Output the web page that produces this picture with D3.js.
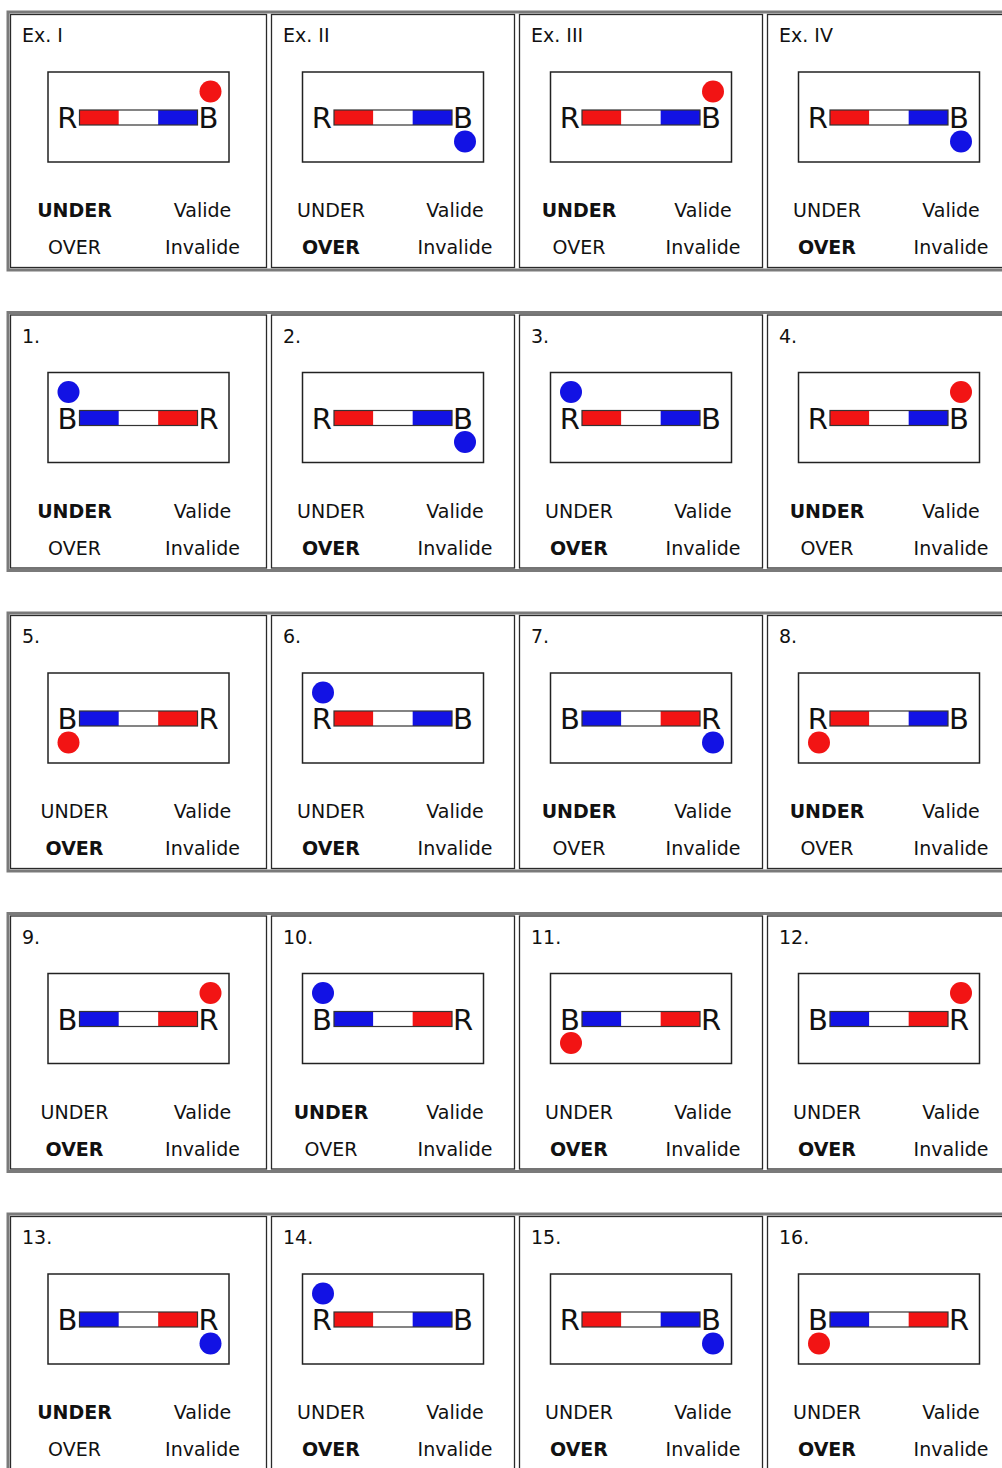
<!DOCTYPE html>
<html>
<head>
<meta charset="utf-8">
<script src="https://cdn.jsdelivr.net/npm/d3@7"></script>
<style>
  body { margin: 0; background: #fff; }
  svg { display: block; }
  text { font-family: "DejaVu Sans", Verdana, sans-serif; fill: #111; }
</style>
</head>
<body>
<div id="chart"></div>
<script>
// cell contents, read left to right, top to bottom
const labels = ["Ex. I", "Ex. II", "Ex. III", "Ex. IV",
    "1.", "2.", "3.", "4.",
    "5.", "6.", "7.", "8.",
    "9.", "10.", "11.", "12.",
    "13.", "14.", "15.", "16."];
const leftLetters = ["R", "R", "R", "R",
    "B", "R", "R", "R",
    "B", "R", "B", "R",
    "B", "B", "B", "B",
    "B", "R", "R", "B"];
const dotColors = ["red", "blue", "red", "blue",
    "blue", "blue", "blue", "red",
    "red", "blue", "blue", "red",
    "red", "blue", "red", "red",
    "blue", "blue", "blue", "red"];
const dotCorners = ["TR", "BR", "TR", "BR",
    "TL", "BR", "TL", "TR",
    "BL", "TL", "BR", "BL",
    "TR", "TL", "BL", "TR",
    "BR", "TL", "BR", "BL"];
const boldChoice = ["UNDER", "OVER", "UNDER", "OVER",
    "UNDER", "OVER", "OVER", "UNDER",
    "OVER", "OVER", "UNDER", "UNDER",
    "OVER", "UNDER", "OVER", "OVER",
    "UNDER", "OVER", "OVER", "OVER"];
const answers = ["Valide", "Invalide"];

const W = 1002, H = 1468;
const nCols = 4, nRows = 5;

var svg = d3.select("#chart").append("svg")
    .attr("width", W)
    .attr("height", H);

// layout
var rowY = d3.scaleLinear().domain([0, 1]).range([12, 312.5]);
var rowH = 258;
var colWidths = [261, 248, 248, 248];
var colEdges = colWidths.reduce(function (acc, w) {
    acc.push(acc[acc.length - 1] + w);
    return acc;
}, [8]);

var fill = { red: "#f21414", blue: "#1212e4" };

var cells = labels.map(function (l, i) {
    return {
        label: l,
        row: Math.floor(i / nCols),
        col: i % nCols,
        left: leftLetters[i],
        right: leftLetters[i] == "R" ? "B" : "R",
        dot: dotColors[i],
        corner: dotCorners[i],
        bold: boldChoice[i]
    };
});

// dot offsets from the bar ends
var dotDx = d3.scaleOrdinal().domain(["L", "R"]).range([-11, 13]);
var dotDy = d3.scaleOrdinal().domain(["T", "B"]).range([-26, 24]);

// outer table border per row
d3.range(nRows).forEach(function (r) {
    svg.append("rect")
        .attr("x", colEdges[0])
        .attr("y", rowY(r))
        .attr("width", colEdges[nCols] - colEdges[0])
        .attr("height", rowH)
        .attr("fill", "none")
        .attr("stroke", "#7a7a7a")
        .attr("stroke-width", 3);
});

var g = svg.selectAll(".cell")
    .data(cells)
    .enter().append("g")
    .attr("class", "cell")
    .attr("transform", function (d) {
        return "translate(" + colEdges[d.col] + "," + rowY(d.row) + ")";
    });

g.append("rect")
    .attr("x", 2.5)
    .attr("y", 2.5)
    .attr("width", function (d) { return colWidths[d.col] - 5; })
    .attr("height", rowH - 5)
    .attr("fill", "none")
    .attr("stroke", "#2a2a2a")
    .attr("stroke-width", 1.3);

g.append("text")
    .attr("x", 14)
    .attr("y", 30)
    .style("font-size", "19px")
    .text(function (d) { return d.label; });

g.each(function (d) {
    var cg = d3.select(this);
    var cx = colWidths[d.col] / 2;
    var by = 105.5;
    var spread = d.col == 0 ? 64 : 62;

    // inner box
    cg.append("rect")
        .attr("x", cx - 90.5)
        .attr("y", 60)
        .attr("width", 181)
        .attr("height", 90)
        .attr("fill", "#fff")
        .attr("stroke", "#222")
        .attr("stroke-width", 1.5);

    var seg = d3.scaleBand()
        .domain([0, 1, 2])
        .range([cx - 59, cx + 59]);
    var segColors = [fill[d.left == "R" ? "red" : "blue"], "#fff", fill[d.right == "R" ? "red" : "blue"]];

    cg.selectAll(".seg")
        .data(segColors)
        .enter().append("rect")
        .attr("class", "seg")
        .attr("x", function (c, i) { return seg(i); })
        .attr("y", by - 7.5)
        .attr("width", seg.bandwidth())
        .attr("height", 15)
        .attr("fill", function (c) { return c; });

    cg.append("rect")
        .attr("x", seg.range()[0])
        .attr("y", by - 7.5)
        .attr("width", seg.range()[1] - seg.range()[0])
        .attr("height", 15)
        .attr("fill", "none")
        .attr("stroke", "#333")
        .attr("stroke-width", 1.2);

    cg.append("text")
        .attr("x", seg.range()[0] - 2)
        .attr("y", by + 10.5)
        .attr("text-anchor", "end")
        .style("font-size", "29px")
        .text(d.left);

    cg.append("text")
        .attr("x", seg.range()[1] + 1)
        .attr("y", by + 10.5)
        .style("font-size", "29px")
        .text(d.right);

    var side = d.corner[1];
    var vert = d.corner[0];
    cg.append("circle")
        .attr("cx", (side == "L" ? seg.range()[0] : seg.range()[1]) + dotDx(side))
        .attr("cy", by + dotDy(vert))
        .attr("r", 11)
        .attr("fill", fill[d.dot]);

    // answer grid
    [["UNDER", 205], ["OVER", 242]].forEach(function (t, k) {
        cg.append("text")
            .attr("x", cx - spread)
            .attr("y", t[1])
            .attr("text-anchor", "middle")
            .style("font-size", "19px")
            .style("font-weight", d.bold == t[0] ? "bold" : "normal")
            .text(t[0]);
        cg.append("text")
            .attr("x", cx + spread)
            .attr("y", t[1])
            .attr("text-anchor", "middle")
            .style("font-size", "19px")
            .text(answers[k]);
    });
});
</script>
</body>
</html>
